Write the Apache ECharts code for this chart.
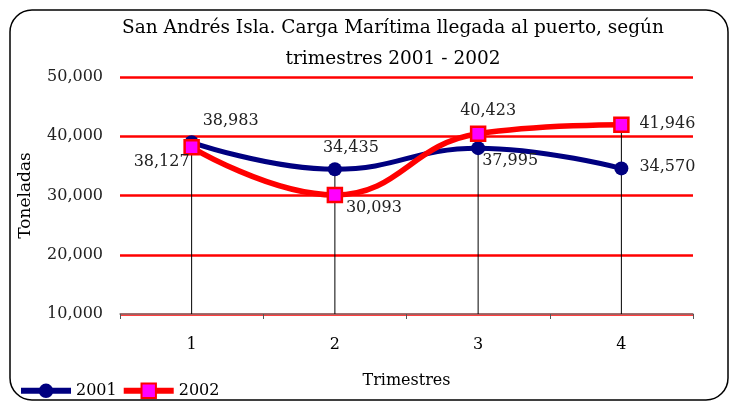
<!DOCTYPE html>
<html><head><meta charset="utf-8">
<script src="https://cdn.jsdelivr.net/npm/echarts@6/dist/echarts.min.js"></script>
<style>html,body{margin:0;padding:0;background:#fff}#c{width:734px;height:402px}</style>
</head><body><div id="c"></div>
<script>
var categories = ['1', '2', '3', '4'];
var s2001 = [38983, 34435, 37995, 34570];
var s2002 = [38127, 30093, 40423, 41946];
var yTicks = [10000, 20000, 30000, 40000, 50000];

// label offsets (styling, per point)
var off2001 = [[39, -21], [16, -21], [32, 13], [46, -2]];
var off2002 = [[-30, 14], [39, 13], [10, -23], [46, -1]];

function fmt(v){ return v.toString().replace(/\B(?=(\d{3})+(?!\d))/g, ','); }
function mk(vals, offs){
  return vals.map(function(v,i){
    return {value: v, label: {show: true, position: 'inside', offset: offs[i], formatter: fmt(v)}};
  });
}
var drop = s2001.map(function(v,i){ return Math.max(v, s2002[i]); });

var chart = echarts.init(document.getElementById('c'));
var numFont = '"DejaVu Serif", serif';
chart.setOption({
  animation: false,
  backgroundColor: '#fff',
  title: {
    text: 'San Andrés Isla. Carga Marítima llegada al puerto, según\ntrimestres 2001 - 2002',
    left: 388, top: 8, textAlign: 'center',
    textStyle: {fontFamily: numFont, fontSize: 18.5, fontWeight: 'normal', color: '#000', lineHeight: 31}
  },
  graphic: [{
    type: 'rect', shape: {x: 10, y: 10, width: 718, height: 390, r: 22},
    style: {fill: 'none', stroke: '#000', lineWidth: 1.5}, z: 100
  }],
  legend: {
    left: 13, bottom: -2, itemWidth: 50, itemHeight: 18, itemGap: 4,
    textStyle: {fontFamily: numFont, fontSize: 16, color: '#000'},
    data: [
      {name: '2001', lineStyle: {width: 6}},
      {name: '2002', lineStyle: {width: 6}}
    ]
  },
  grid: {left: 120, right: 41, top: 77, bottom: 88},
  xAxis: {
    type: 'category', data: categories, boundaryGap: true,
    name: 'Trimestres', nameLocation: 'middle', nameGap: 59,
    nameTextStyle: {fontFamily: numFont, fontSize: 16, color: '#000'},
    axisLine: {lineStyle: {color: '#808080', width: 1.5}},
    axisTick: {show: true, length: 5, lineStyle: {color: '#555'}},
    axisLabel: {fontFamily: numFont, fontSize: 16, color: '#000', margin: 23}
  },
  yAxis: {
    type: 'value', min: yTicks[0], max: yTicks[yTicks.length-1], interval: 10000,
    name: 'Toneladas', nameLocation: 'middle', nameGap: 86, nameRotate: 90,
    nameTextStyle: {fontFamily: numFont, fontSize: 17, color: '#000'},
    axisLine: {show: false}, axisTick: {show: false},
    axisLabel: {fontFamily: numFont, fontSize: 16, color: '#222', margin: 17, formatter: function(v){ return fmt(v); }},
    splitLine: {lineStyle: {color: '#ff0000', width: 2.5}}
  },
  series: [
    {type: 'bar', data: drop, barWidth: 1, itemStyle: {color: '#000'}, silent: true, z: 1, legendHoverLink: false},
    {name: '2001', type: 'line', smooth: 0.45, data: mk(s2001, off2001), z: 3,
     symbol: 'circle', symbolSize: 14,
     lineStyle: {color: '#000080', width: 5}, itemStyle: {color: '#000080'},
     label: {fontFamily: numFont, fontSize: 16, color: '#222'}},
    {name: '2002', type: 'line', smooth: 0.45, data: mk(s2002, off2002), z: 4,
     symbol: 'rect', symbolSize: 14,
     lineStyle: {color: '#ff0000', width: 5.5}, itemStyle: {color: '#ff00ff', borderColor: '#ff0000', borderWidth: 2.5},
     label: {fontFamily: numFont, fontSize: 16, color: '#222'}}
  ]
});
</script></body></html>
